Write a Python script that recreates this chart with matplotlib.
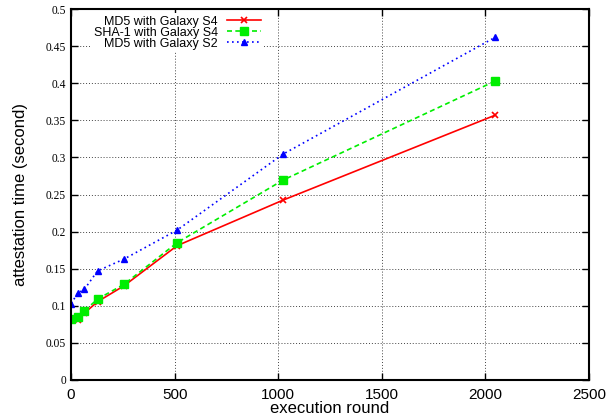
import numpy as np
import matplotlib
matplotlib.use('Agg')
import matplotlib.pyplot as plt
from matplotlib.ticker import FormatStrFormatter

rounds = [1, 32, 64, 128, 256, 512, 1024, 2048]
md5_s4 = [0.081, 0.081, 0.090, 0.1055, 0.127, 0.181, 0.2425, 0.357]
sha1_s4 = [0.082, 0.0846, 0.093, 0.109, 0.129, 0.185, 0.2695, 0.403]
md5_s2 = [0.103, 0.117, 0.122, 0.147, 0.163, 0.202, 0.3045, 0.462]

plt.rcParams['font.family'] = ['Liberation Sans', 'DejaVu Sans']

fig = plt.figure(figsize=(6.1, 4.18), dpi=100)
ax = fig.add_axes([71/610, 1-380/418, 518/610, 371/418])

ax.plot(rounds, md5_s4, color='#ff0000', lw=1.2, ls='-', marker='x', ms=5, mew=1.2,
        label='MD5 with Galaxy S4')
ax.plot(rounds, sha1_s4, color='#00ee00', lw=1.2, ls=(0, (3, 2)), marker='s', ms=5.5,
        label='SHA-1 with Galaxy S4')
ax.plot(rounds, md5_s2, color='#0000ff', lw=1.2, ls=(0, (1, 2)), marker='^', ms=4,
        label='MD5 with Galaxy S2')

ax.set_xlim(0, 2500)
ax.set_ylim(0, 0.5)
ax.set_xticks(np.arange(0, 2501, 500))
ax.set_yticks(np.arange(0, 0.501, 0.05))
ax.yaxis.set_major_formatter(FormatStrFormatter('%g'))
ax.tick_params(direction='in', length=5, width=1, top=True, right=True)
ax.tick_params(axis='x', labelsize=11, pad=6)
for t in ax.get_yticklabels():
    t.set_family('Liberation Serif')
    t.set_fontsize(8.3)
ax.grid(True, color='#444444', ls=(0, (1, 2)), lw=0.7)
for s in ax.spines.values():
    s.set_linewidth(1.5)

ax.set_xlabel('execution round', fontsize=12, labelpad=-1)
ax.set_ylabel('attestation time (second)', fontsize=12, labelpad=13)

leg = ax.legend(loc='upper right', bbox_to_anchor=(263/610, 1-13/418),
                bbox_transform=fig.transFigure, markerfirst=False,
                fontsize=9, handlelength=2.7, handletextpad=0.7,
                labelspacing=-0.07, borderpad=0.2, borderaxespad=0,
                frameon=True, fancybox=False, framealpha=1, edgecolor='none')

fig.savefig('out.png', dpi=100)
